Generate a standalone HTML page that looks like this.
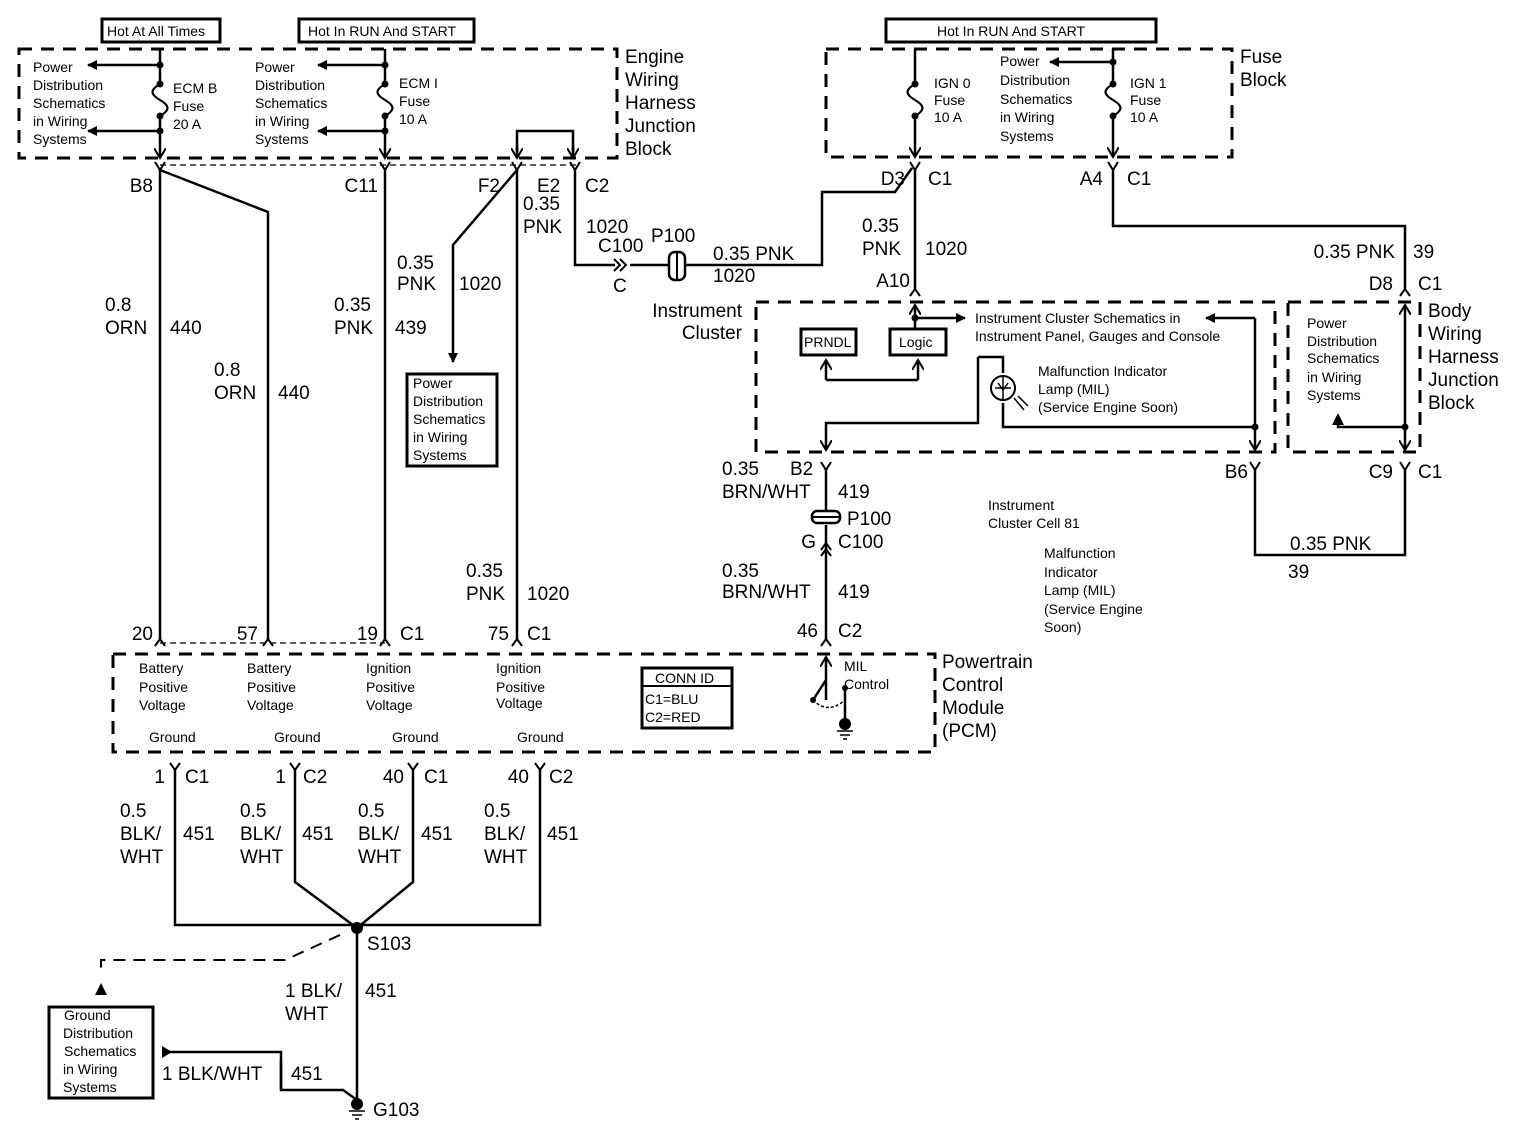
<!DOCTYPE html>
<html><head><meta charset="utf-8"><style>
html,body{margin:0;padding:0;background:#fff}
svg{display:block}
text{font-family:"Liberation Sans",Arial,sans-serif;fill:#000}
.s{font-size:14px}
.m{font-size:19px}
.b{font-size:19px}
</style></head><body>
<svg width="1536" height="1132" viewBox="0 0 1536 1132" xmlns="http://www.w3.org/2000/svg">
<defs>
<marker id="a" markerWidth="10" markerHeight="10" refX="9" refY="5" orient="auto" markerUnits="userSpaceOnUse"><path d="M0,0 L10,5 L0,10 Z" fill="#000"/></marker>
<marker id="o" markerWidth="12" markerHeight="12" refX="10" refY="6" orient="auto" markerUnits="userSpaceOnUse"><path d="M0,0 L10,6 L0,12" fill="none" stroke="#000" stroke-width="2"/></marker>
</defs>
<g fill="none" stroke="#000" stroke-width="3" stroke-dasharray="13,9">
<rect x="19" y="49" width="598" height="109"/>
<rect x="826" y="49" width="406" height="108"/>
<rect x="756" y="302" width="519" height="150"/>
<rect x="1288" y="302" width="132" height="150"/>
<rect x="113" y="654" width="822" height="98"/>
</g>
<g fill="none" stroke="#000" stroke-width="1.2" stroke-dasharray="6,4">
<path d="M160,165 H580"/><path d="M160,643 H385"/>
</g>
<path d="M340,935 L285,960 H101 V975" fill="none" stroke="#000" stroke-width="2" stroke-dasharray="12,8"/>
<!-- header boxes -->
<g fill="#fff" stroke="#000" stroke-width="3">
<rect x="102" y="19" width="118" height="23"/>
<rect x="299" y="19" width="175" height="23"/>
<rect x="886" y="19" width="270" height="23"/>
<rect x="407" y="374" width="90" height="92"/>
<rect x="49" y="1007" width="104" height="91"/>
<rect x="801" y="329" width="55" height="26"/>
<rect x="890" y="329" width="56" height="26"/>
<rect x="642" y="668" width="90" height="60"/>
</g>
<path d="M642,686 H732" stroke="#000" stroke-width="2"/>
<g class="s">
<text x="107" y="36">Hot At All Times</text>
<text x="308" y="36">Hot In RUN And START</text>
<text x="937" y="36">Hot In RUN And START</text>
<text x="804" y="347">PRNDL</text>
<text x="899" y="347">Logic</text>
<text x="655" y="683">CONN ID</text>
<text x="645" y="704">C1=BLU</text>
<text x="645" y="722">C2=RED</text>
</g>
<!-- wires -->
<g fill="none" stroke="#000" stroke-width="2.5">
<!-- engine block -->
<path d="M160,49 V158" marker-end="url(#o)"/>
<path d="M160,65 H88" marker-end="url(#a)"/>
<path d="M160,131 H88" marker-end="url(#a)"/>
<path d="M385,49 V158" marker-end="url(#o)"/>
<path d="M385,65 H318" marker-end="url(#a)"/>
<path d="M385,131 H318" marker-end="url(#a)"/>
<path d="M517,158 V131 H573 V158"/>
<path d="M517,145 V158" marker-end="url(#o)"/><path d="M573,145 V158" marker-end="url(#o)"/>
<!-- below engine block -->
<path d="M160,170 V640"/>
<path d="M160,170 L268,212 V640"/>
<path d="M385,170 V640"/>
<path d="M517,170 L453,245 V362" marker-end="url(#a)"/>
<path d="M517,170 V640"/>
<path d="M575,170 V265 H615"/>
<path d="M630,265 H822 V192 H895 L912,168"/>
<!-- fuse block -->
<path d="M915,49 V157" marker-end="url(#o)"/>
<path d="M1113,49 V157" marker-end="url(#o)"/>
<path d="M1113,62 H1050" marker-end="url(#a)"/>
<path d="M915,170 V290"/>
<path d="M1113,170 V226 H1405 V290"/>
<!-- instrument cluster -->
<path d="M915,330 V305" marker-end="url(#o)"/>
<path d="M915,318 H965" marker-end="url(#a)"/>
<path d="M826,380 H918"/>
<path d="M826,380 V360" marker-end="url(#o)"/><path d="M918,380 V360" marker-end="url(#o)"/>
<path d="M978,357 V423 H826 V450" marker-end="url(#o)"/>
<path d="M978,357 H1003 V373"/>
<path d="M1003,403 V427 H1255"/>
<path d="M1255,318 H1206" marker-end="url(#a)"/>
<path d="M1255,318 V450" marker-end="url(#o)"/>
<path d="M1405,427 V305" marker-end="url(#o)"/>
<path d="M1405,427 V450" marker-end="url(#o)"/>
<path d="M1405,427 H1338 V416" marker-end="url(#a)"/>
<path d="M1255,470 V555 H1405 V470"/>
<path d="M826,470 V510"/><path d="M826,525 V640"/>
<!-- PCM -->
<path d="M826,700 V657" marker-end="url(#o)"/>
<path d="M826,680 L813,700"/>
<path d="M845,688 V722"/>
<!-- bottom -->
<path d="M175,768 V925 H540 V768"/>
<path d="M295,768 V882 L357,928 L413,882 V768"/>
<path d="M357,928 V1100"/>
<path d="M165,1052 H281 V1090 H343 L357,1100"/>
</g>
<path d="M813,700 Q828,715 845,700" fill="none" stroke="#000" stroke-width="1.5" stroke-dasharray="3,2"/>
<!-- fuses -->
<g fill="none" stroke="#000" stroke-width="2">
<path d="M160,84 C150,90 150,94 160,100 C170,106 170,110 160,116"/>
<path d="M385,84 C375,90 375,94 385,100 C395,106 395,110 385,116"/>
<path d="M915,84 C905,90 905,94 915,100 C925,106 925,110 915,116"/>
<path d="M1113,84 C1103,90 1103,94 1113,100 C1123,106 1123,110 1113,116"/>
</g>
<rect x="155" y="86" width="10" height="28" fill="#fff"/><rect x="380" y="86" width="10" height="28" fill="#fff"/>
<rect x="910" y="86" width="10" height="28" fill="#fff"/><rect x="1108" y="86" width="10" height="28" fill="#fff"/>
<g fill="none" stroke="#000" stroke-width="2">
<path d="M160,84 C150,90 150,94 160,100 C170,106 170,110 160,116"/>
<path d="M385,84 C375,90 375,94 385,100 C395,106 395,110 385,116"/>
<path d="M915,84 C905,90 905,94 915,100 C925,106 925,110 915,116"/>
<path d="M1113,84 C1103,90 1103,94 1113,100 C1123,106 1123,110 1113,116"/>
</g>
<!-- dots -->
<g fill="#000">
<circle cx="160" cy="65" r="3.5"/><circle cx="160" cy="84" r="3.5"/><circle cx="160" cy="116" r="3.5"/><circle cx="160" cy="131" r="3.5"/>
<circle cx="385" cy="65" r="3.5"/><circle cx="385" cy="84" r="3.5"/><circle cx="385" cy="116" r="3.5"/><circle cx="385" cy="131" r="3.5"/>
<circle cx="915" cy="84" r="3.5"/><circle cx="915" cy="116" r="3.5"/>
<circle cx="1113" cy="62" r="3.5"/><circle cx="1113" cy="84" r="3.5"/><circle cx="1113" cy="116" r="3.5"/>
<circle cx="915" cy="318" r="3.5"/><circle cx="1255" cy="427" r="3.5"/><circle cx="1405" cy="427" r="3.5"/>
<circle cx="813" cy="700" r="3"/><circle cx="845" cy="688" r="3"/>
<circle cx="357" cy="928" r="6"/>
<circle cx="845" cy="724" r="6"/><circle cx="357" cy="1104" r="6"/>
<path d="M101,983 L95,995 H107 Z"/><path d="M1338,413 L1332,425 H1344 Z"/>
<path d="M162,1046 L172,1052 L162,1058 Z"/>
</g>
<g stroke="#000" stroke-width="1.5">
<path d="M837,731 H853 M840,735 H850 M843,739 H847"/>
<path d="M349,1111 H365 M352,1115 H362 M355,1119 H359"/>
</g>
<!-- connector glyphs Y (female top) and ^ -->
<g fill="none" stroke="#000" stroke-width="2">
<path d="M155,162 L160,170 L165,162"/><path d="M380,162 L385,170 L390,162"/>
<path d="M512,162 L517,170 L522,162"/><path d="M570,162 L575,170 L580,162"/>
<path d="M910,162 L915,170 L920,162"/><path d="M1108,162 L1113,170 L1118,162"/>
<path d="M910,296 L915,289 L920,296"/><path d="M1400,296 L1405,289 L1410,296"/>
<path d="M821,462 L826,470 L831,462"/><path d="M1250,462 L1255,470 L1260,462"/><path d="M1400,462 L1405,470 L1410,462"/>
<path d="M155,646 L160,639 L165,646"/><path d="M263,646 L268,639 L273,646"/><path d="M380,646 L385,639 L390,646"/><path d="M512,646 L517,639 L522,646"/><path d="M821,646 L826,639 L831,646"/>
<path d="M821,550 L826,543 L831,550"/><path d="M821,556 L826,549 L831,556"/>
<path d="M170,763 L175,770 L180,763"/><path d="M290,763 L295,770 L300,763"/><path d="M408,763 L413,770 L418,763"/><path d="M535,763 L540,770 L545,763"/>
<path d="M614,259 L620,265 L614,271"/><path d="M620,259 L626,265 L620,271"/>
</g>
<!-- P100 inline symbols -->
<rect x="669" y="252" width="16" height="28" rx="6" fill="#fff" stroke="#000" stroke-width="2.5"/>
<path d="M677,252 V280" stroke="#000" stroke-width="2"/>
<rect x="812" y="511" width="28" height="12" rx="5" fill="#fff" stroke="#000" stroke-width="2.5"/>
<path d="M812,517 H840" stroke="#000" stroke-width="2"/>
<!-- lamp -->
<circle cx="1003" cy="388" r="12" fill="#fff" stroke="#000" stroke-width="2"/>
<path d="M1003,376 V400 M995,388 H1011 M998,383 L1003,390 L1008,383" fill="none" stroke="#000" stroke-width="1.5"/>
<path d="M1014,398 L1024,410 M1018,396 L1028,406" stroke="#000" stroke-width="1.5"/>
<!-- small texts -->
<g class="s">
<text x="33" y="72">Power</text><text x="33" y="90">Distribution</text><text x="33" y="108">Schematics</text><text x="33" y="126">in Wiring</text><text x="33" y="144">Systems</text>
<text x="173" y="93">ECM B</text><text x="173" y="111">Fuse</text><text x="173" y="129">20 A</text>
<text x="255" y="72">Power</text><text x="255" y="90">Distribution</text><text x="255" y="108">Schematics</text><text x="255" y="126">in Wiring</text><text x="255" y="144">Systems</text>
<text x="399" y="88">ECM I</text><text x="399" y="106">Fuse</text><text x="399" y="124">10 A</text>
<text x="934" y="88">IGN 0</text><text x="934" y="105">Fuse</text><text x="934" y="122">10 A</text>
<text x="1000" y="66">Power</text><text x="1000" y="85">Distribution</text><text x="1000" y="104">Schematics</text><text x="1000" y="122">in Wiring</text><text x="1000" y="141">Systems</text>
<text x="1130" y="88">IGN 1</text><text x="1130" y="105">Fuse</text><text x="1130" y="122">10 A</text>
<text x="413" y="388">Power</text><text x="413" y="406">Distribution</text><text x="413" y="424">Schematics</text><text x="413" y="442">in Wiring</text><text x="413" y="460">Systems</text>
<text x="975" y="323">Instrument Cluster Schematics in</text><text x="975" y="341">Instrument Panel, Gauges and Console</text>
<text x="1038" y="376">Malfunction Indicator</text><text x="1038" y="394">Lamp (MIL)</text><text x="1038" y="412">(Service Engine Soon)</text>
<text x="1307" y="328">Power</text><text x="1307" y="346">Distribution</text><text x="1307" y="363">Schematics</text><text x="1307" y="382">in Wiring</text><text x="1307" y="400">Systems</text>
<text x="988" y="510">Instrument</text><text x="988" y="528">Cluster Cell 81</text>
<text x="1044" y="558">Malfunction</text><text x="1044" y="577">Indicator</text><text x="1044" y="595">Lamp (MIL)</text><text x="1044" y="614">(Service Engine</text><text x="1044" y="632">Soon)</text>
<text x="139" y="673">Battery</text><text x="139" y="692">Positive</text><text x="139" y="710">Voltage</text>
<text x="247" y="673">Battery</text><text x="247" y="692">Positive</text><text x="247" y="710">Voltage</text>
<text x="366" y="673">Ignition</text><text x="366" y="692">Positive</text><text x="366" y="710">Voltage</text>
<text x="496" y="673">Ignition</text><text x="496" y="692">Positive</text><text x="496" y="708">Voltage</text>
<text x="149" y="742">Ground</text><text x="274" y="742">Ground</text><text x="392" y="742">Ground</text><text x="517" y="742">Ground</text>
<text x="844" y="671">MIL</text><text x="844" y="689">Control</text>
<text x="64" y="1020">Ground</text><text x="63" y="1038">Distribution</text><text x="64" y="1056">Schematics</text><text x="63" y="1074">in Wiring</text><text x="63" y="1092">Systems</text>
</g>
<!-- big labels -->
<g class="m">
<text x="625" y="63">Engine</text><text x="625" y="86">Wiring</text><text x="625" y="109">Harness</text><text x="625" y="132">Junction</text><text x="625" y="155">Block</text>
<text x="1240" y="63">Fuse</text><text x="1240" y="86">Block</text>
<text x="742" y="317" text-anchor="end">Instrument</text><text x="742" y="339" text-anchor="end">Cluster</text>
<text x="1428" y="317">Body</text><text x="1428" y="340">Wiring</text><text x="1428" y="363">Harness</text><text x="1428" y="386">Junction</text><text x="1428" y="409">Block</text>
<text x="942" y="668">Powertrain</text><text x="942" y="691">Control</text><text x="942" y="714">Module</text><text x="942" y="737">(PCM)</text>
<text x="153" y="192" text-anchor="end">B8</text><text x="378" y="192" text-anchor="end">C11</text>
<text x="500" y="192" text-anchor="end">F2</text><text x="537" y="192">E2</text><text x="585" y="192">C2</text>
<text x="523" y="210">0.35</text><text x="523" y="233">PNK</text><text x="586" y="233">1020</text>
<text x="598" y="252">C100</text><text x="651" y="242">P100</text><text x="613" y="292">C</text>
<text x="713" y="260">0.35 PNK</text><text x="713" y="282">1020</text>
<text x="905" y="185" text-anchor="end">D3</text><text x="928" y="185">C1</text>
<text x="1103" y="185" text-anchor="end">A4</text><text x="1127" y="185">C1</text>
<text x="862" y="232">0.35</text><text x="862" y="255">PNK</text><text x="925" y="255">1020</text>
<text x="910" y="287" text-anchor="end">A10</text>
<text x="1395" y="258" text-anchor="end">0.35 PNK</text><text x="1413" y="258">39</text>
<text x="1393" y="290" text-anchor="end">D8</text><text x="1418" y="290">C1</text>
<text x="105" y="311">0.8</text><text x="105" y="334">ORN</text><text x="170" y="334">440</text>
<text x="214" y="376">0.8</text><text x="214" y="399">ORN</text><text x="278" y="399">440</text>
<text x="334" y="311">0.35</text><text x="334" y="334">PNK</text><text x="395" y="334">439</text>
<text x="397" y="269">0.35</text><text x="397" y="290">PNK</text><text x="459" y="290">1020</text>
<text x="466" y="577">0.35</text><text x="466" y="600">PNK</text><text x="527" y="600">1020</text>
<text x="153" y="640" text-anchor="end">20</text><text x="258" y="640" text-anchor="end">57</text>
<text x="378" y="640" text-anchor="end">19</text><text x="400" y="640">C1</text>
<text x="509" y="640" text-anchor="end">75</text><text x="527" y="640">C1</text>
<text x="818" y="637" text-anchor="end">46</text><text x="838" y="637">C2</text>
<text x="722" y="475">0.35</text><text x="790" y="475">B2</text><text x="722" y="498">BRN/WHT</text><text x="838" y="498">419</text>
<text x="847" y="525">P100</text><text x="816" y="548" text-anchor="end">G</text><text x="838" y="548">C100</text>
<text x="722" y="577">0.35</text><text x="722" y="598">BRN/WHT</text><text x="838" y="598">419</text>
<text x="1248" y="478" text-anchor="end">B6</text><text x="1393" y="478" text-anchor="end">C9</text><text x="1418" y="478">C1</text>
<text x="1290" y="550">0.35 PNK</text><text x="1288" y="578">39</text>
<text x="165" y="783" text-anchor="end">1</text><text x="185" y="783">C1</text>
<text x="286" y="783" text-anchor="end">1</text><text x="303" y="783">C2</text>
<text x="404" y="783" text-anchor="end">40</text><text x="424" y="783">C1</text>
<text x="529" y="783" text-anchor="end">40</text><text x="549" y="783">C2</text>
<text x="120" y="817">0.5</text><text x="120" y="840">BLK/</text><text x="120" y="863">WHT</text><text x="183" y="840">451</text>
<text x="240" y="817">0.5</text><text x="240" y="840">BLK/</text><text x="240" y="863">WHT</text><text x="302" y="840">451</text>
<text x="358" y="817">0.5</text><text x="358" y="840">BLK/</text><text x="358" y="863">WHT</text><text x="421" y="840">451</text>
<text x="484" y="817">0.5</text><text x="484" y="840">BLK/</text><text x="484" y="863">WHT</text><text x="547" y="840">451</text>
<text x="367" y="950">S103</text>
<text x="285" y="997">1 BLK/</text><text x="285" y="1020">WHT</text><text x="365" y="997">451</text>
<text x="162" y="1080">1 BLK/WHT</text><text x="291" y="1080">451</text>
<text x="373" y="1116">G103</text>
</g>
<path d="M281,1060 V1090" stroke="#000" stroke-width="2.5"/>
</svg>
</body></html>
